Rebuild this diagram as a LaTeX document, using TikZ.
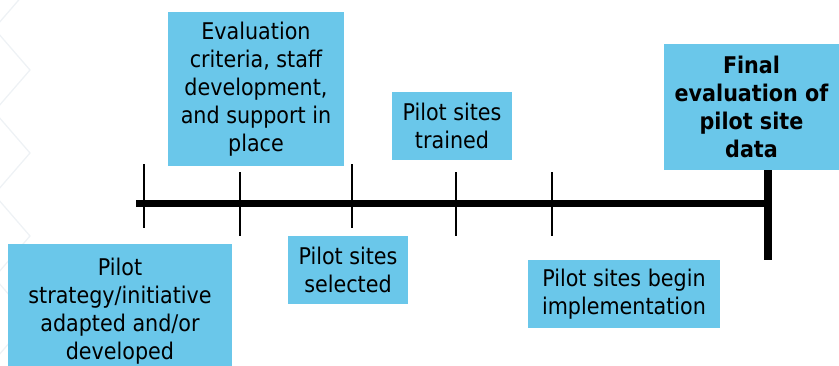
\documentclass[tikz,border=0pt]{standalone}
\usepackage{fontspec}
\setmainfont{DejaVu Sans Condensed}
\definecolor{boxblue}{RGB}{106,199,234}
\definecolor{hexc}{RGB}{238,242,245}
\begin{document}
\begin{tikzpicture}[x=1pt,y=-1pt,
  box/.style={fill=boxblue, draw=none, inner sep=0pt, align=center,
              font=\fontsize{23}{28}\selectfont, text=black},
  tickline/.style={line width=2.7pt, draw=black},
  axisline/.style={line width=7pt, draw=black},
  endline/.style={line width=8pt, draw=black},
  hexline/.style={draw=hexc, line width=1.3pt}]
\useasboundingbox (0,0) rectangle (839,365);
% faint hexagon background
\begin{scope}
\clip (0,0) rectangle (839,365);
\foreach \cy in {-13,70,153,236,319,402}{
  \draw[hexline] (30,\cy) -- (-6,\cy-41.6) -- (-42,\cy-41.6) -- (-66,\cy)
     -- (-42,\cy+41.6) -- (-6,\cy+41.6) -- cycle;
}
\end{scope}
% boxes
\node[box, minimum width=176pt, minimum height=154pt] (eval) at (256,89)
  {Evaluation\\criteria, staff\\development,\\and support in\\place};
\node[box, minimum width=224pt, minimum height=135pt] (strat) at (120,311.5)
  {Pilot\\strategy/initiative\\adapted and/or\\developed};
\node[box, minimum width=120pt, minimum height=68pt] (sel) at (348,270)
  {Pilot sites\\selected};
\node[box, minimum width=120pt, minimum height=68pt] (trained) at (452,126)
  {Pilot sites\\trained};
\node[box, minimum width=192pt, minimum height=68pt] (impl) at (624,294)
  {Pilot sites begin\\implementation};
\node[box, minimum width=175pt, minimum height=126pt, font=\fontsize{23}{28}\selectfont\bfseries] (final) at (751.5,107)
  {Final\\evaluation of\\pilot site\\data};
% tick coordinates
\coordinate (t1a) at (144,164); \coordinate (t1b) at (144,228);
\coordinate (t2a) at (240,172); \coordinate (t2b) at (240,236);
\coordinate (t3a) at (352,164); \coordinate (t3b) at (352,228);
\coordinate (t4a) at (456,172); \coordinate (t4b) at (456,236);
\coordinate (t5a) at (552,172); \coordinate (t5b) at (552,236);
\coordinate (axs) at (136,203.5); \coordinate (axe) at (768,203.5);
\coordinate (ftop) at (768,170); \coordinate (fbot) at (768,260);
% ticks
\draw[tickline] (t1a) -- (t1b);
\draw[tickline] (t2a) -- (t2b);
\draw[tickline] (t3a) -- (t3b);
\draw[tickline] (t4a) -- (t4b);
\draw[tickline] (t5a) -- (t5b);
% axis
\draw[axisline] (axs) -- (axe);
\draw[endline] (ftop) -- (fbot);
\end{tikzpicture}
\end{document}
